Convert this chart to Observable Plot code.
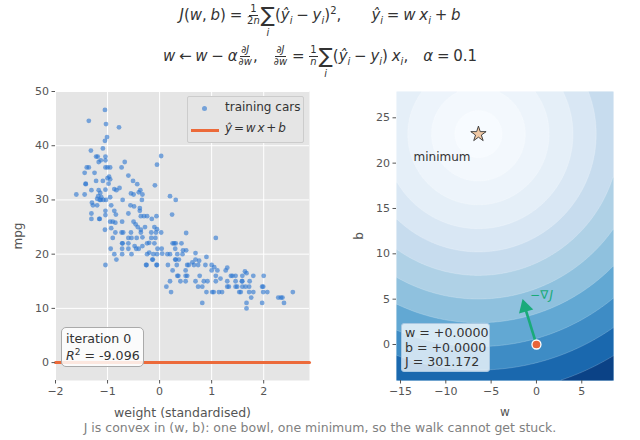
<!DOCTYPE html>
<html><head><meta charset="utf-8">
<script src="https://cdn.jsdelivr.net/npm/d3@7"></script>
<script src="https://cdn.jsdelivr.net/npm/@observablehq/plot@0.6"></script>
<style>
html,body{margin:0;padding:0;background:#fff;}
#page{position:relative;width:640px;height:440px;overflow:hidden;font-family:"DejaVu Sans",sans-serif;color:#333;}
#page svg{font-family:"DejaVu Sans",sans-serif;}
.panel{position:absolute;top:80px;width:320px;height:340px;}
.eq{position:absolute;left:0;width:640px;display:flex;justify-content:center;align-items:center;white-space:pre;font-size:15px;color:#333;height:40px;word-spacing:-1px;}
.eq i{font-style:italic;}
.eq sub,.eq sup{font-size:10px;line-height:0;}
.frac{display:inline-flex;flex-direction:column;align-items:center;font-size:10px;line-height:10.5px;margin:0 1px;}
.frac>span:first-child{border-bottom:1px solid #333;padding:0 1px;}
.sum{display:inline-flex;flex-direction:column;align-items:center;position:relative;font-size:21px;line-height:21px;}
.sum small{position:absolute;top:23px;font-size:10px;line-height:10px;font-style:italic;}
.box{position:absolute;box-sizing:border-box;font-size:12.6px;color:#333;white-space:pre;}
#caption{position:absolute;top:420px;left:0;width:640px;text-align:center;font-size:12.5px;color:#808080;}
</style></head><body>
<div id="page">
  <div class="eq" style="top:-5px"><span><i>J</i>(<i>w</i>, <i>b</i>) = </span><span class="frac"><span>1</span><span>2<i>n</i></span></span><span class="sum">∑<small>i</small></span><span>(<i>ŷ<sub>i</sub></i> − <i>y<sub>i</sub></i>)<sup>2</sup>,        <i>ŷ<sub>i</sub></i> = <i>w x<sub>i</sub></i> + <i>b</i></span></div>
  <div class="eq" style="top:36px"><span><i>w</i> ← <i>w</i> − <i>α</i></span><span class="frac"><span>∂<i>J</i></span><span>∂<i>w</i></span></span><span>,    </span><span class="frac"><span>∂<i>J</i></span><span>∂<i>w</i></span></span><span> = </span><span class="frac"><span>1</span><span><i>n</i></span></span><span class="sum">∑<small>i</small></span><span>(<i>ŷ<sub>i</sub></i> − <i>y<sub>i</sub></i>) <i>x<sub>i</sub></i>,    <i>α</i> = 0.1</span></div>
  <div class="panel" id="left" style="left:0"></div>
  <div class="panel" id="right" style="left:320px"></div>
  <div class="box" style="left:187px;top:96px;width:117px;height:47px;background:#e5e5e5;border:1px solid #ccc;border-radius:2px;font-size:12px;">
    <span style="position:absolute;left:14px;top:9px;width:5px;height:5px;border-radius:50%;background:#2a75d0;opacity:.6"></span>
    <span style="position:absolute;left:37px;top:3px;">training cars</span>
    <span style="position:absolute;left:3px;top:32px;width:28px;height:3px;background:#ec6a3a"></span>
    <span style="position:absolute;left:37px;top:24px;word-spacing:-2px;"><i>ŷ</i> = <i>w x</i> + <i>b</i></span>
  </div>
  <div class="box" style="left:61px;top:327px;width:83px;height:40px;background:rgba(255,255,255,.84);border:1px solid #aaa;border-radius:5px;padding:2px 4px;line-height:17px;">iteration 0
<i>R</i><sup style="font-size:9px;line-height:0">2</sup> = -9.096</div>
  <div class="box" style="left:401px;top:323px;width:89px;height:49px;background:rgba(255,255,255,.75);border:1px solid #a9c8e2;border-radius:3px;padding:2px 3px;line-height:14.7px;">w = +0.0000
b = +0.0000
J = 301.172</div>
  <div id="caption">J is convex in (w, b): one bowl, one minimum, so the walk cannot get stuck.</div>
</div>
<script>
const cars = [
[-1.05,46.6],[-1.36,44.6],[-1.03,44],[-.78,43.4],[-1.01,41.6],[-1.05,40.9],[-1.09,39.5],[-1.32,39.1],[.03,38.1],[-1.22,38],[-1.19,38],[-1.04,38],
[-1.04,37.3],[-1.17,37],[-1.13,37.3],[-.67,37],[-.05,36.5],[-1.4,36],[-1.36,36],[-1.04,36],[-1,36],[-.95,36],[-.73,36],[-1.25,35],[-1.44,35],[-.6,34.5],
[-.97,34.3],[-1,34],[-.95,33.8],[-.98,33],[-1.22,33.5],[-.51,33.5],[-.43,32.9],[-.09,32.7],[-1.42,33],[-1.42,32.9],[-1.09,33.5],[-1.04,31.9],[-.87,32],[-.83,31.8],[-.77,32.2],
[-1.31,31.8],[-.37,31.8],[-.4,31.4],[.2,30.7],[.31,30],[-1.6,31],[-1.44,31],[-.33,31],[-.55,31.2],[-.5,31],[-1.17,31.8],[-1.14,31.3],[-1.18,30.7],[-1.12,30.5],[-1.2,30.2],[-1.15,30],
[-.71,30],[-.34,30],[-.95,30.5],[-1.3,29.5],[-1.28,29],[-1.2,29],[-1.13,30],[-1.08,30],[-1.03,30],[-.93,29],[-.56,29],[-.49,28.8],[-.38,28.5],[-1.04,28],[-.87,28],[-.84,27.3],[-1.04,27.2],
[-1.31,27.5],[-1.31,26.5],[-1.16,26.5],[-1.15,26.5],[-.6,27.5],[.24,27.3],[-.38,28],[-.36,27],[-.3,27],[-.24,27],[-.06,27],[-.15,26.5],[-.95,26],[-.9,26],[-.85,25.8],
[-.72,26],[-.5,26],[-.46,25.5],[-.42,25],[-.28,25],[-.36,24.5],[-.1,25],[-.05,24.6],[.03,24],[-.07,24],[-.16,24],[-1.05,24.5],[-.93,24.8],[-.85,24],[-.73,24],[-.7,24],[-.55,24],[-.36,24],
[-.9,23],[-.6,23],[-.54,23],[-.44,23],[-.33,23.1],[-.16,23],[-.08,23],[-.72,22],[-.71,22],[-.6,22],[-.24,22],[-.2,22.1],[-.1,22],[.25,22],[-.94,21],[-.72,21],[-.6,21],[-.48,21.5],[-.45,21],[-.4,21],[-.33,21.5],
[-.04,21],[.04,21],[.3,21],[-.87,20],[-.72,20],[-.54,20],[-.24,20],[-.2,20.3],[-.12,20],[-.05,20],[.05,20.1],[.15,20],[.2,20],[.28,22],[-.83,19],[-.14,19],[-.13,19],[.3,19],
[-1.04,18],[-.26,18],[-.25,18],[-.06,18],[-.05,18],[.16,18],[.25,17],[.33,18],[.36,16],[.2,15],[.13,14],[.22,13],
[.51,23.9],[1.08,23],[.45,20.7],[.51,20.7],[.31,22],[.42,22],[.69,20.2],[.9,19.5],[.34,20],[.44,20],[.31,19],[.37,19],[.53,18],[.56,18],[.63,18.5],[.69,19],[.76,18.8],[.74,18],[.66,18],
[.5,17],[1,18],[.88,18],[1.05,17.6],[1.11,17],[1,17],[1.27,17],[1.3,17.5],[.34,16],[.5,16],[.53,16],[.77,16],[1.08,16],[1.17,15.5],[1.4,16],[1.46,16],[1.37,16],
[1.64,16.8],[1.67,16.5],[1.8,16],[2,16],[1.59,16],[1.58,15],[.4,15],[.5,15],[.69,15],[.85,15],[.92,15],[1.08,15],[1.3,15],[1.46,15],[1.59,15],[1.73,15],
[1.3,14],[1.33,14],[1.46,14],[1.49,14],[1.59,14],[1.65,14],[1.72,14],[1.97,14],[1.99,14],[.74,14],[.82,14],[.9,13],[1.01,13],[1.04,13],[1.14,13],[1.2,13],
[1.53,13],[1.56,13],[1.72,13],[1.8,13],[1.99,13],[2.07,13],[2.56,13],[1.76,12],[2.28,12],[2.33,12],[2.36,12],[.82,11],[1.67,11],[1.97,11],[2.39,11],[1.67,10]
];
const xTicksLeft = [-2,-1,0,1,2];
const yTicksLeft = [0,10,20,30,40,50];
const fitLine = [[-2,0],[2.88,0]];
const xTicksRight = [-15,-10,-5,0,5];
const yTicksRight = [0,5,10,15,20,25];
const minimum = {w:-6.4,b:23.2,J:11.6};
const start = {w:0,b:0};
const stepTail = {w:-1.15,b:3.7};
const stepTip = {w:-1.27,b:4.1};
const levels = [0,15,25,42,66,96,133,177,228,286,350,421];
const bandColors = ["#f7fbff","#f3f8fd","#edf4fb","#e5eff8","#d9e7f4","#c7dcee","#afd1e6","#8fc1de","#62a8d3","#3e8cc5","#1a68ae","#0b4286"];
const J = (w,b) => minimum.J + ((w-minimum.w)**2 + (b-minimum.b)**2)/2;
const minus = d => String(d).replace("-","−");
const ink = "#555";
const green = "#1aaa7a";

const left = Plot.plot({
  width:320,height:340,marginLeft:55,marginRight:11,marginTop:11,marginBottom:40,
  style:{fontSize:"11px",color:ink,background:"transparent"},
  x:{domain:[-2,2.88]},y:{domain:[-3.3,50]},
  marks:[
    Plot.frame({fill:"#e5e5e5",stroke:null}),
    Plot.gridX(xTicksLeft,{stroke:"#fff",strokeOpacity:1,strokeWidth:1}),
    Plot.gridY(yTicksLeft,{stroke:"#fff",strokeOpacity:1,strokeWidth:1}),
    Plot.dot(cars,{x:d=>d[0],y:d=>d[1],r:2.4,fill:"#2a75d0",fillOpacity:.6,stroke:null}),
    Plot.line(fitLine,{x:d=>d[0],y:d=>d[1],stroke:"#ec6a3a",strokeWidth:3}),
    Plot.axisX(xTicksLeft,{tickSize:3.5,tickPadding:3,tickFormat:minus,label:null,fontSize:11}),
    Plot.axisY(yTicksLeft,{tickSize:3.5,tickPadding:3,tickFormat:minus,label:null,fontSize:11}),
    Plot.text(["weight (standardised)"],{frameAnchor:"bottom",lineAnchor:"middle",dy:32,text:d=>d,fontSize:12.5,fill:ink}),
    Plot.text(["mpg"],{frameAnchor:"left",textAnchor:"middle",lineAnchor:"middle",dx:-37,rotate:-90,text:d=>d,fontSize:12,fill:ink})
  ]
});
document.getElementById("left").append(left);

const right = Plot.plot({
  width:320,height:340,marginLeft:76,marginRight:27,marginTop:11,marginBottom:40,
  style:{fontSize:"11px",color:ink,background:"transparent"},
  x:{domain:[-15.44,8.5]},y:{domain:[-3.97,27.9]},
  color:{type:"threshold",domain:levels.slice(1),range:bandColors},
  marks:[
    Plot.contour({fill:J,x1:-15.44,x2:8.5,y1:-3.97,y2:27.9,thresholds:levels,pixelSize:1,stroke:"#fff",strokeOpacity:.3,strokeWidth:.6}),
    Plot.link([0],{x1:start.w,y1:start.b,x2:stepTail.w,y2:stepTail.b,stroke:green,strokeWidth:2.6}),
    Plot.dot([stepTip],{x:"w",y:"b",symbol:"triangle",rotate:-16,r:5.5,fill:green,stroke:null}),
    Plot.dot([start],{x:"w",y:"b",r:4.5,fill:"#e8643a",stroke:"#fff",strokeWidth:1.3}),
    Plot.dot([minimum],{x:"w",y:"b",symbol:"star",r:4.8,fill:"#f1c9a5",stroke:"#333",strokeWidth:.9}),
    Plot.text(["minimum"],{x:-13.56,y:20.7,text:d=>d,textAnchor:"start",fontSize:12,fill:"#333"}),
    Plot.text(["−∇"],{x:-0.7,y:5.4,text:d=>d,textAnchor:"start",fontSize:12,fill:green}),
    Plot.text(["J"],{x:1.45,y:5.4,text:d=>d,textAnchor:"start",fontSize:12,fontStyle:"italic",fill:green}),
    Plot.axisX(xTicksRight,{tickSize:3.5,tickPadding:3,tickFormat:minus,label:null,fontSize:11}),
    Plot.axisY(yTicksRight,{tickSize:3.5,tickPadding:3,tickFormat:minus,label:null,fontSize:11}),
    Plot.text(["w"],{frameAnchor:"bottom",lineAnchor:"middle",dy:32,text:d=>d,fontSize:12,fill:ink}),
    Plot.text(["b"],{frameAnchor:"left",textAnchor:"middle",lineAnchor:"middle",dx:-37,rotate:-90,text:d=>d,fontSize:12,fill:ink})
  ]
});
document.getElementById("right").append(right);
</script>
</body></html>
